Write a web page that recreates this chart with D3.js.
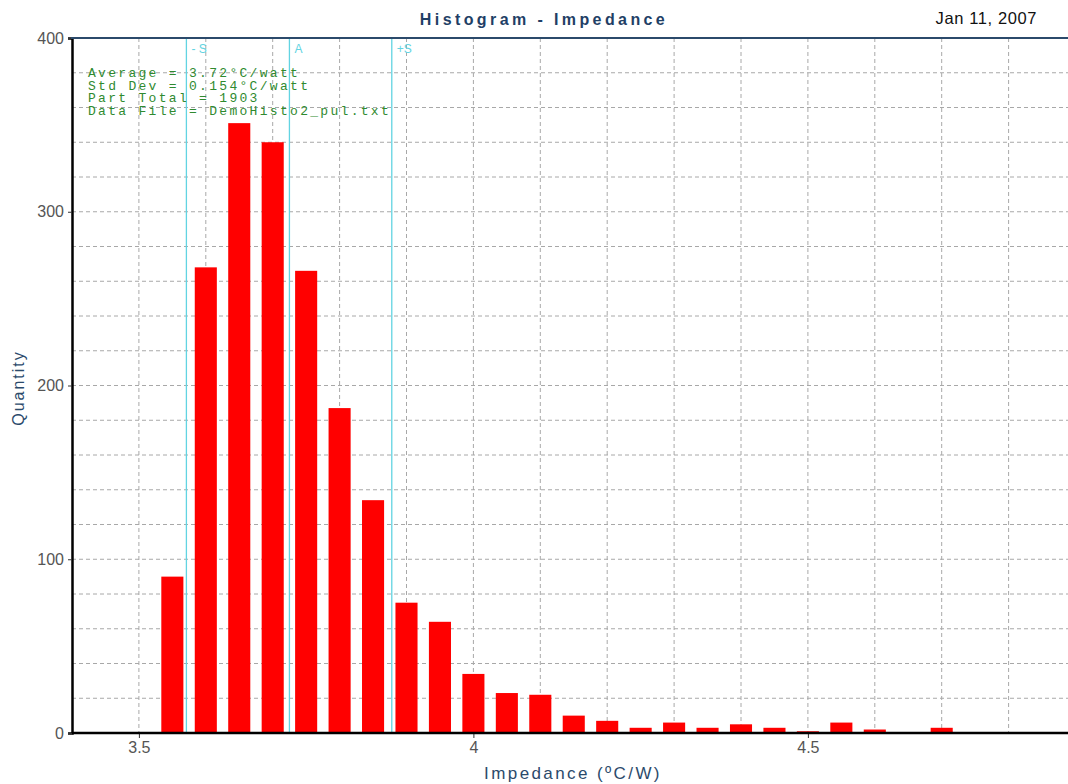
<!DOCTYPE html>
<html>
<head>
<meta charset="utf-8">
<script src="https://cdn.jsdelivr.net/npm/d3@7"></script>
<style>
  html, body { margin: 0; padding: 0; background: #fff; }
  svg { display: block; }
</style>
</head>
<body>
<svg id="chart" width="1068" height="784"></svg>
<script>
// ---- data ----
const binCenters = [3.55, 3.60, 3.65, 3.70, 3.75, 3.80, 3.85, 3.90, 3.95, 4.00, 4.05, 4.10,
                    4.15, 4.20, 4.25, 4.30, 4.35, 4.40, 4.45, 4.50, 4.55, 4.60, 4.65, 4.70];
const quantities = [90, 268, 351, 340, 266, 187, 134, 75, 64, 34, 23, 22,
                    10, 7, 3, 6, 3, 5, 3, 1, 6, 2, 0, 3];
const xTickValues = [3.5, 4, 4.5];
const yTickValues = [0, 100, 200, 300, 400];
const markerValues = [3.571, 3.725, 3.878];
const markerLabels = ["- S", "A", "+S"];
const statLines = ["Average = 3.72°C/watt", "Std Dev = 0.154°C/watt", "Part Total = 1903", "Data File = DemoHisto2_pul.txt"];
const titleText = "Histogram - Impedance";
const dateText = "Jan 11, 2007";
const xTitle = "Impedance (ºC/W)";
const yTitle = "Quantity";
const binWidth = 0.05;

(function () {
// ---- layout ----
const svg = d3.select("#chart");
const pLeft = 72, pRight = 1075.5, pTop = 38, pBottom = 733;
const x = d3.scaleLinear().domain([3.4, 4.9]).range([pLeft, pRight]);
const y = d3.scaleLinear().domain([0, 400]).range([pBottom, pTop]);
const axisColor = "#2b4a6b";
const sans = "Liberation Sans, Arial, sans-serif";

// gridlines
const grid = svg.append("g");
grid.selectAll("line.gy").data(d3.range(20, 400, 20)).join("line")
  .attr("x1", pLeft).attr("x2", 1068)
  .attr("y1", d => y(d)).attr("y2", d => y(d))
  .attr("stroke", "#a8a8a8").attr("stroke-width", 1).attr("stroke-dasharray", "4,3");
grid.selectAll("line.gx").data(d3.range(3.5, 4.85, 0.1)).join("line")
  .attr("x1", d => x(d)).attr("x2", d => x(d))
  .attr("y1", pTop).attr("y2", pBottom)
  .attr("stroke", "#a8a8a8").attr("stroke-width", 1).attr("stroke-dasharray", "4,3");

// bars
const barHalf = binWidth * 0.33;
svg.append("g").selectAll("rect").data(binCenters).join("rect")
  .attr("x", d => x(d - barHalf))
  .attr("width", d => x(d + barHalf) - x(d - barHalf))
  .attr("y", (d, i) => y(quantities[i]))
  .attr("height", (d, i) => pBottom - y(quantities[i]))
  .attr("fill", "#ff0000");

// marker lines
svg.append("g").selectAll("line").data(markerValues).join("line")
  .attr("x1", d => x(d)).attr("x2", d => x(d))
  .attr("y1", pTop).attr("y2", pBottom)
  .attr("stroke", "#62d4e2").attr("stroke-width", 1.3);
svg.append("g").selectAll("text").data(markerValues).join("text")
  .attr("x", d => x(d) + 5).attr("y", 53)
  .attr("font-family", sans).attr("font-size", 12)
  .attr("fill", "#62d4e2")
  .text((d, i) => markerLabels[i]);

// stats text
svg.append("g").selectAll("text").data(statLines).join("text")
  .attr("x", 88).attr("y", (d, i) => 77 + i * 12.6)
  .attr("font-family", "Liberation Mono, Courier New, monospace").attr("font-size", 13)
  .attr("letter-spacing", "2.3px")
  .attr("fill", "#2f8a2f")
  .text(d => d);

// axes
const yAxis = d3.axisLeft(y).tickValues(yTickValues).tickSize(4).tickPadding(4).tickFormat(d3.format("d"));
const gy = svg.append("g").attr("transform", `translate(${pLeft},0)`).call(yAxis);
gy.select(".domain").attr("stroke", "#000").attr("stroke-width", 2.5);
gy.selectAll(".tick line").attr("stroke", "#333");
gy.selectAll(".tick text").attr("font-family", sans).attr("font-size", 16).attr("fill", "#555");

const xAxis = d3.axisBottom(x).tickValues(xTickValues).tickSize(5).tickPadding(4).tickFormat(d => d3.format("")(d));
const gx = svg.append("g").attr("transform", `translate(0,${pBottom})`).call(xAxis);
gx.select(".domain").remove();
gx.append("line").attr("x1", pLeft).attr("x2", 1068).attr("y1", 0).attr("y2", 0)
  .attr("stroke", "#000").attr("stroke-width", 2.5);
gx.selectAll(".tick line").attr("stroke", "#333");
gx.selectAll(".tick text").attr("font-family", sans).attr("font-size", 16).attr("fill", "#555");

// top border
svg.append("line").attr("x1", pLeft - 1).attr("x2", 1068).attr("y1", pTop).attr("y2", pTop)
  .attr("stroke", axisColor).attr("stroke-width", 2);

// titles
svg.append("text").attr("x", 544).attr("y", 25).attr("text-anchor", "middle")
  .attr("font-family", sans).attr("font-size", 16).attr("font-weight", "bold")
  .attr("letter-spacing", "3.4px").attr("fill", "#1f3f66").text(titleText);
svg.append("text").attr("x", 1037).attr("y", 24).attr("text-anchor", "end")
  .attr("font-family", sans).attr("font-size", 16.5)
  .attr("letter-spacing", "0.6px")
  .attr("fill", "#111").text(dateText);
svg.append("text").attr("x", 573).attr("y", 779).attr("text-anchor", "middle")
  .attr("font-family", sans).attr("font-size", 17)
  .attr("letter-spacing", "2.4px").attr("fill", axisColor).text(xTitle);
svg.append("text").attr("transform", "translate(24,388) rotate(-90)").attr("text-anchor", "middle")
  .attr("font-family", sans).attr("font-size", 16)
  .attr("letter-spacing", "2px").attr("fill", axisColor).text(yTitle);
})();
</script>
</body>
</html>
